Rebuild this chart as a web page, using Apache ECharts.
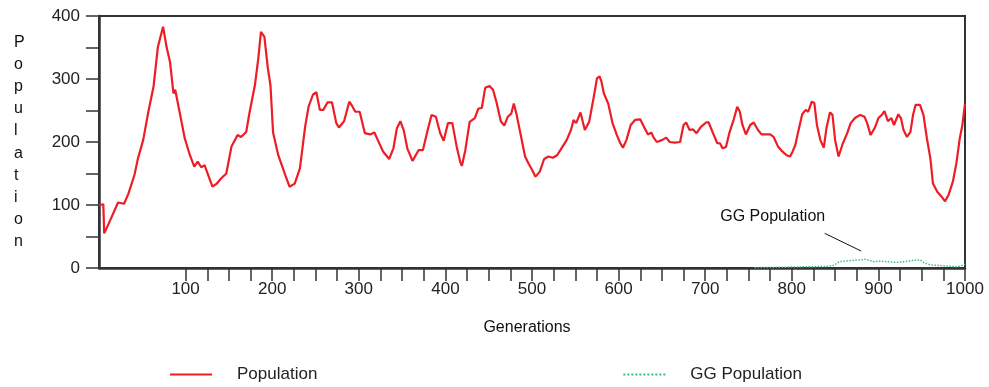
<!DOCTYPE html>
<html>
<head>
<meta charset="utf-8">
<script src="https://cdn.jsdelivr.net/npm/echarts@6/dist/echarts.min.js"></script>
<style>html,body{margin:0;padding:0;background:#fff;}#c{width:989px;height:387px;}</style>
</head>
<body>
<div id="c"></div>
<script>
// Population series (generation, value)
var popGen = [0,5,6,13,22,29,34,41,45,51,57,63,68,74,78,82,86,88,93,99,105,110,114,118,122,126,131,136,141,147,153,160,164,170,174,180,184,187,191,195,198,201,207,215,220,226,232,238,242,247,251,255,259,264,269,274,277,283,289,292,296,301,307,313,318,322,328,335,340,344,348,352,356,358,362,369,374,379,384,389,394,398,403,408,413,417,419,423,428,434,438,442,446,451,455,459,464,468,472,476,479,482,487,492,496,500,504,509,514,519,524,529,534,540,545,548,551,556,561,566,571,575,578,580,583,588,593,598,602,605,609,614,619,625,630,634,638,640,644,650,655,659,665,671,675,678,682,686,690,695,701,704,709,714,717,720,724,728,733,737,740,743,747,752,756,761,765,770,775,779,784,789,794,798,801,804,807,812,816,819,823,826,829,833,837,840,844,847,850,854,859,864,868,873,879,884,887,891,896,900,904,907,911,915,918,923,926,929,933,937,940,943,948,952,956,960,963,968,973,977,981,986,990,994,997,1000];
var popVal = [100,101,55,76,104,102,118,148,174,203,248,288,351,383,351,327,277,283,248,206,179,161,169,160,163,148,129,134,142,150,193,211,208,216,248,290,333,375,367,317,290,215,179,148,129,134,158,224,256,275,279,251,251,263,263,230,223,233,264,258,248,248,214,212,215,203,185,173,190,222,233,218,190,192,170,187,187,216,243,240,214,202,230,230,193,169,162,187,232,238,253,254,286,289,283,263,233,226,240,245,261,245,211,177,166,156,145,153,173,177,175,179,190,203,219,235,230,247,219,232,269,301,304,297,277,261,230,211,198,191,203,227,235,236,222,212,215,208,200,203,207,200,199,200,227,231,219,220,214,224,231,231,214,198,198,190,192,215,236,256,248,227,212,227,231,219,212,212,212,208,193,185,179,177,185,195,214,244,251,248,264,262,227,203,191,222,247,243,203,177,198,214,230,238,243,240,230,211,223,238,243,249,233,238,227,244,238,219,208,216,243,259,259,243,206,174,134,121,113,106,116,137,166,206,227,261];
// GG Population series
var ggGen = [757,780,800,820,840,848,855,862,870,880,885,890,895,900,910,920,930,940,948,953,960,970,980,990,995,1000];
var ggVal = [0.5,1,1.5,2,2.5,4,10,11,12,13,14,12,10,11,10,9,10,12,13,8,5,4,3,2,3,6];
// Axis ticks / labels
var xTickValues = [100,125,150,175,200,225,250,275,300,325,350,375,400,425,450,475,500,525,550,575,600,625,650,675,700,725,750,775,800,825,850,875,900,925,950,975,1000];
var xLabelValues = [100,200,300,400,500,600,700,800,900,1000];
var seriesNames = ['Population','GG Population'];
var annotationText = 'GG Population';
var annotationPoint = [778, 81];
var annotationLine = [[838, 55], [880, 27]];

function zip(a, b) { return a.map(function (v, i) { return [v, b[i]]; }); }

var FONT = 'Liberation Sans, Arial, sans-serif';
var chart = echarts.init(document.getElementById('c'), null, { renderer: 'canvas' });
chart.setOption({
  animation: false,
  backgroundColor: '#fff',
  textStyle: { fontFamily: FONT },
  grid: { left: 99, right: 24, top: 16, bottom: 119, show: true, borderColor: '#333', borderWidth: 2, backgroundColor: 'transparent' },
  legend: {
    bottom: -1, left: 164,
    itemWidth: 42, itemHeight: 14, itemGap: 305,
    itemStyle: { opacity: 0 },
    textStyle: { fontSize: 17, color: '#222', fontFamily: FONT, padding: [0, 0, 0, 20] },
    data: seriesNames
  },
  xAxis: {
    type: 'value', min: 0, max: 1000,
    name: 'Generations', nameLocation: 'middle', nameGap: 52,
    nameTextStyle: { fontSize: 16, color: '#111', fontFamily: FONT, padding: [0, 10, 0, 0] },
    axisLine: { show: true, onZero: false, lineStyle: { color: '#333', width: 2.5 } },
    axisTick: { show: true, length: 13, customValues: xTickValues, lineStyle: { color: '#333', width: 1.5 } },
    axisLabel: { customValues: xLabelValues, fontSize: 17, color: '#222', margin: 13, fontFamily: FONT,
      formatter: function (v) { return String(v); } },
    splitLine: { show: false }
  },
  yAxis: {
    type: 'value', min: 0, max: 400, interval: 100,
    name: 'P\no\np\nu\nl\na\nt\ni\no\nn', nameLocation: 'middle', nameGap: 85, nameRotate: 0,
    nameTextStyle: { fontSize: 16, color: '#111', align: 'left', verticalAlign: 'middle', lineHeight: 22.2, padding: [12, 0, 0, 0], fontFamily: FONT },
    axisLine: { show: true, lineStyle: { color: '#333', width: 2.5 } },
    axisTick: { show: true, length: 13, lineStyle: { color: '#333', width: 1.5 } },
    minorTick: { show: true, splitNumber: 2, length: 13, lineStyle: { color: '#333', width: 1.5 } },
    axisLabel: { fontSize: 17, color: '#222', margin: 19, fontFamily: FONT },
    splitLine: { show: false }
  },
  series: [
    {
      name: seriesNames[0], type: 'line', data: zip(popGen, popVal),
      symbol: 'none', lineStyle: { color: '#ee1c25', width: 2.2 }, itemStyle: { color: '#ee1c25' }, z: 3
    },
    {
      name: seriesNames[1], type: 'line', data: zip(ggGen, ggVal),
      symbol: 'none', lineStyle: { color: '#3cbf7a', width: 1.5, type: 'dotted' }, itemStyle: { color: '#3cbf7a' }, z: 2,
      markLine: {
        silent: true, symbol: ['none', 'none'], label: { show: false },
        lineStyle: { color: '#111', width: 1, type: 'solid' },
        data: [[{ coord: annotationLine[0] }, { coord: annotationLine[1] }]]
      },
      markPoint: {
        silent: true,
        data: [{ coord: annotationPoint, symbol: 'circle', symbolSize: 1, itemStyle: { color: 'rgba(0,0,0,0)' },
          label: { show: true, position: 'inside', formatter: annotationText, fontSize: 16, color: '#111', fontFamily: FONT } }]
      }
    }
  ]
});
</script>
</body>
</html>
